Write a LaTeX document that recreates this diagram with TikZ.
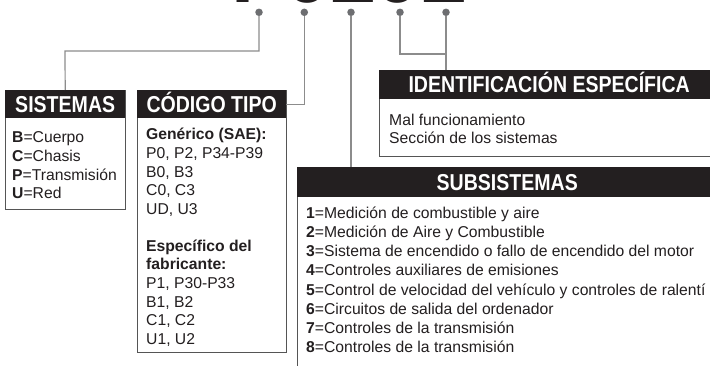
\documentclass[tikz,border=0pt]{standalone}
\usepackage{fontspec}
\setmainfont{Liberation Sans}
\newfontfamily\headfont[FakeStretch=0.85]{Liberation Sans}
\definecolor{hdrblack}{HTML}{231F20}
\definecolor{boxgray}{HTML}{555555}
\definecolor{conngray}{HTML}{8C8C8C}
\definecolor{dotgray}{HTML}{6D6E71}
\begin{document}
\begin{tikzpicture}[x=1pt,y=-1pt,
  hdr/.style={fill=hdrblack, text=white, font=\headfont\bfseries\fontsize{23}{23}\selectfont,
    inner sep=0pt, anchor=north west, text height=16.5pt, text depth=0pt},
  box/.style={draw=boxgray, line width=1pt, inner sep=0pt, anchor=north west},
  txt/.style={anchor=base west, inner sep=0pt, font=\fontsize{15.7}{19}\selectfont, text=hdrblack},
  conn/.style={draw=conngray, line width=1.2pt},
  dot/.style={circle, fill=dotgray, inner sep=0pt, minimum size=7.5pt},
  big/.style={anchor=base, inner sep=0pt, font=\bfseries\fontsize{83}{83}\selectfont, text=hdrblack}]
\useasboundingbox (0,0) rectangle (710,366);
\fill[white] (0,0) rectangle (710,366);

% big code (cut off at the top)
\node[big] (c1) at (259.4,3) {P};
\node[big] (c2) at (308,3) {0};
\node[big] (c3) at (354,3) {2};
\node[big] (c4) at (398,3) {0};
\node[big] (c5) at (445,3) {2};

% dots
\node[dot] (d1) at (259,12.3) {};
\node[dot] (d2) at (304.3,12.3) {};
\node[dot] (d3) at (351,12.3) {};
\node[dot] (d4) at (400,12.3) {};
\node[dot] (d5) at (446,12.3) {};

% boxes
\node[box, minimum width=120pt, minimum height=119pt] (sisB) at (5,90) {};
\node[hdr, minimum width=120pt, minimum height=28pt] (sisH) at (5,90) {SISTEMAS};

\node[box, minimum width=149pt, minimum height=262pt] (codB) at (137,90) {};
\node[hdr, minimum width=149pt, minimum height=28pt] (codH) at (137,90) {CÓDIGO TIPO};

\node[box, minimum width=340pt, minimum height=86pt] (idB) at (379,70) {};
\node[hdr, minimum width=340pt, minimum height=29pt] (idH) at (379,70) {IDENTIFICACIÓN ESPECÍFICA};

\node[box, minimum width=420pt, minimum height=215pt] (subB) at (297,167) {};
\node[hdr, minimum width=420pt, minimum height=30pt] (subH) at (297,167) {SUBSISTEMAS};

% connectors
\coordinate (j1) at (65,51);
\coordinate (j45) at (446,54);
\draw[conn] (d1) |- (j1) -- (sisH.north);
\draw[conn] (d2) |- (codH.east);
\draw[conn] (d3) -- (d3 |- subH.north);
\draw[conn] (d4) |- (j45);
\draw[conn] (d5) -- (d5 |- idH.north);

% texts
\foreach \t [count=\i] in {\textbf{B}=Cuerpo, \textbf{C}=Chasis, \textbf{P}=Transmisión, \textbf{U}=Red}
  \node[txt] (sis\i) at (12,{143+18.6*(\i-1)}) {\t};

\foreach \t [count=\i] in {\textbf{Genérico (SAE):}, {P0, P2, P34-P39}, {B0, B3}, {C0, C3}, {UD, U3}}
  \node[txt] (gen\i) at (146,{140+18.6*(\i-1)}) {\t};
\foreach \t [count=\i] in {\textbf{Específico del}, \textbf{fabricante:}, {P1, P30-P33}, {B1, B2}, {C1, C2}, {U1, U2}}
  \node[txt] (esp\i) at (146,{251.3+18.6*(\i-1)}) {\t};

\node[txt] (id1) at (389,125.5) {Mal funcionamiento};
\node[txt] (id2) at (389,143.8) {Sección de los sistemas};

\foreach \t [count=\i] in {
  \textbf{1}=Medición de combustible y aire,
  \textbf{2}=Medición de Aire y Combustible,
  \textbf{3}=Sistema de encendido o fallo de encendido del motor,
  \textbf{4}=Controles auxiliares de emisiones,
  \textbf{5}=Control de velocidad del vehículo y controles de ralentí,
  \textbf{6}=Circuitos de salida del ordenador,
  \textbf{7}=Controles de la transmisión,
  \textbf{8}=Controles de la transmisión}
  \node[txt] (sub\i) at (306,{218.5+19.14*(\i-1)}) {\t};
\end{tikzpicture}
\end{document}
